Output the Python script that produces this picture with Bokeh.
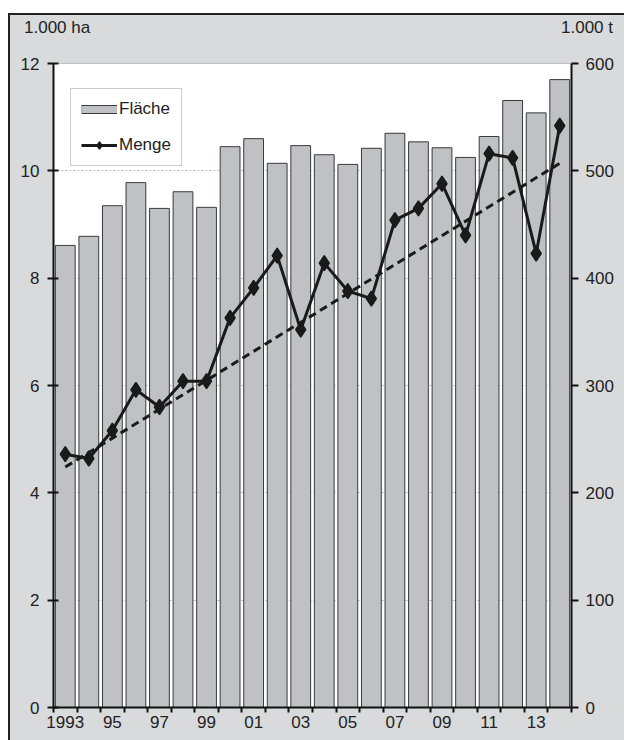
from bokeh.plotting import figure
from bokeh.layouts import column
from bokeh.models import (Range1d, LinearAxis, FixedTicker, Span, Legend, LegendItem,
                          ColumnDataSource, Div)
from bokeh.embed import file_html
from bokeh.resources import INLINE

years = list(range(1993, 2015))
flaeche = [8.61, 8.78, 9.35, 9.78, 9.30, 9.61, 9.32, 10.45, 10.60, 10.14, 10.47,
           10.30, 10.12, 10.42, 10.70, 10.54, 10.43, 10.25, 10.64, 11.31, 11.08, 11.70]
menge = [236, 232, 258, 296, 280, 304, 304, 363, 391, 421, 352,
         414, 388, 381, 454, 465, 488, 440, 516, 512, 423, 542]
trend_years = [1993, 2014]
trend_values = [224, 507]
tick_years = [1993, 1995, 1997, 1999, 2001, 2003, 2005, 2007, 2009, 2011, 2013]
tick_labels = ["1993", "95", "97", "99", "01", "03", "05", "07", "09", "11", "13"]
unit_left = "1.000 ha"
unit_right = "1.000 t"

FONT = "Liberation Sans"
FS = "17px"
TXT = "#222222"
DARK = "#1a1a1a"
BG = "#d9dadc"

p = figure(width=614, height=688, output_backend="svg", toolbar_location=None,
           x_range=Range1d(1992.5, 2014.5), y_range=Range1d(0, 12),
           min_border_left=43, min_border_right=53, min_border_top=11, min_border_bottom=33)
p.margin = 0
p.background_fill_color = "white"
p.border_fill_color = BG
p.outline_line_color = None

p.extra_y_ranges = {"t": Range1d(0, 600)}

# grid
p.xgrid.visible = False
p.ygrid.ticker = FixedTicker(ticks=[2, 4, 6, 8, 10])
p.ygrid.grid_line_color = "#b8b8b8"
p.ygrid.grid_line_dash = "2 2"
p.ygrid.grid_line_width = 1
p.add_layout(Span(location=12, dimension="width", line_color="#444444", line_dash="1 1", line_width=1))

# bars
src = ColumnDataSource(dict(x=years, top=flaeche, m=menge))
bars = p.vbar(x="x", top="top", width=0.84, source=src, fill_color="#c0c1c5",
              line_color="#3a3a3a", line_width=1)

# trend
p.line(trend_years, trend_values, y_range_name="t", line_color=DARK, line_width=3, line_dash="8 5")

# line
ln = p.line(x="x", y="m", source=src, y_range_name="t", line_color=DARK, line_width=3)
mk = p.scatter(x="x", y="m", source=src, y_range_name="t", marker="diamond", size=15,
               fill_color=DARK, line_color=DARK, line_width=1.5)

# legend-only renderers for the bar swatch (placed outside the visible range)
sw_out = p.line(x=[1980, 1981], y=[0, 0], line_color="#3a3a3a", line_width=9, line_cap="butt")
sw_in = p.line(x=[1980, 1981], y=[0, 0], line_color="#c0c1c5", line_width=7, line_cap="butt")


def style_axis(ax):
    ax.axis_line_color = "#111111"
    ax.axis_line_width = 2
    ax.major_tick_line_color = "#111111"
    ax.major_tick_line_width = 2
    ax.minor_tick_line_color = "#111111"
    ax.minor_tick_line_width = 2
    ax.major_label_text_font = FONT
    ax.major_label_text_font_size = FS
    ax.major_label_text_color = TXT


xa = p.xaxis[0]
style_axis(xa)
xa.ticker = FixedTicker(ticks=tick_years, minor_ticks=[y - 0.5 for y in years] + [2014.5])
xa.major_label_overrides = {y: l for y, l in zip(tick_years, tick_labels)}
xa.major_tick_out = 0
xa.major_tick_in = 0
xa.minor_tick_out = 5
xa.minor_tick_in = 0
xa.major_label_standoff = 3

ya = p.yaxis[0]
style_axis(ya)
ya.ticker = FixedTicker(ticks=[0, 2, 4, 6, 8, 10, 12])
ya.major_tick_in = 5
ya.major_tick_out = 6
ya.minor_tick_out = 0
ya.minor_tick_in = 0
ya.major_label_standoff = 8

ra = LinearAxis(y_range_name="t")
style_axis(ra)
ra.ticker = FixedTicker(ticks=[0, 100, 200, 300, 400, 500, 600])
ra.major_tick_in = 0
ra.major_tick_out = 7
ra.minor_tick_out = 0
ra.minor_tick_in = 0
ra.major_label_standoff = 7
p.add_layout(ra, "right")

legend = Legend(items=[LegendItem(label="Fläche", renderers=[sw_out, sw_in]),
                       LegendItem(label="Menge", renderers=[ln, mk])],
                location=(17, 541))
legend.border_line_color = "#9a9a9a"
legend.border_line_width = 1
legend.background_fill_color = "white"
legend.background_fill_alpha = 1
legend.label_text_font = FONT
legend.label_text_font_size = FS
legend.label_text_color = TXT
legend.glyph_width = 36
legend.glyph_height = 18
legend.label_height = 18
legend.label_standoff = 2
legend.spacing = 16
legend.padding = 10
legend.margin = 0
p.add_layout(legend)

# header with the unit labels
header_html = (
    '<div style="width:614px;height:37px;position:relative;background:%s;'
    "font-family:'%s';font-size:%s;color:%s;line-height:19px;\">"
    '<span style="position:absolute;left:14px;top:3px;">%s</span>'
    '<span style="position:absolute;right:11px;top:3px;">%s</span></div>'
) % (BG, FONT, FS, TXT, unit_left, unit_right)
header = Div(text=header_html, width=614, height=37)
header.margin = 0

layout = column(header, p)
layout.margin = (13, 0, 0, 8)
layout.spacing = 0
layout.styles = {"border-left": "2px solid #222222", "border-top": "2px solid #222222",
                 "background-color": BG}

open("out.html", "w").write(file_html(layout, INLINE))
